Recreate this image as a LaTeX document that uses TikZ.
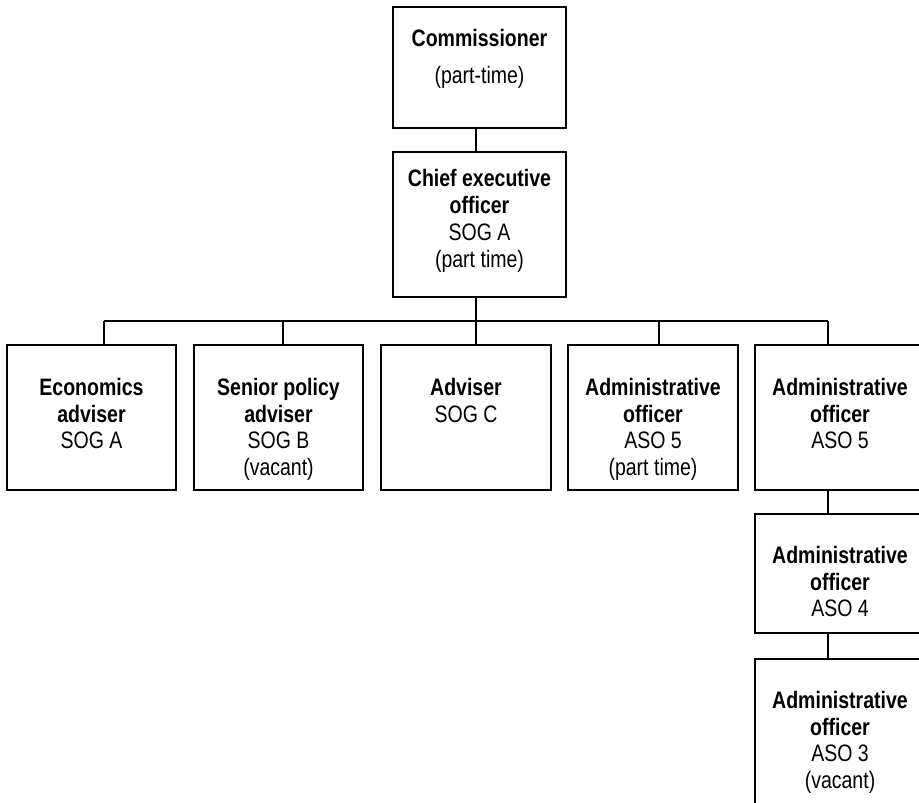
\documentclass[tikz,border=0pt]{standalone}
\usepackage{fontspec}
\setmainfont{Liberation Sans}[FakeStretch=0.82]
\begin{document}
\begin{tikzpicture}[x=1pt,y=-1pt,
  box/.style={draw, line width=1.3pt, inner sep=0pt, rectangle},
  conn/.style={line width=1.3pt},
  txt/.style={align=center, anchor=north, inner sep=0pt, font=\fontsize{23.8}{26.7}\selectfont}]
\clip (0,0) rectangle (919,803);
\fill[white] (0,0) rectangle (919,803);
% boxes
\node[box, minimum width=173pt, minimum height=121pt] (comm) at (479.5,67.5) {};
\node[box, minimum width=173pt, minimum height=145pt] (ceo) at (479.5,224.5) {};
\node[box, minimum width=169pt, minimum height=145pt] (b1) at (91.5,417.5) {};
\node[box, minimum width=169pt, minimum height=145pt] (b2) at (278.5,417.5) {};
\node[box, minimum width=170pt, minimum height=145pt] (b3) at (466,417.5) {};
\node[box, minimum width=170pt, minimum height=145pt] (b4) at (653,417.5) {};
\node[box, minimum width=170pt, minimum height=145pt] (b5) at (840,417.5) {};
\node[box, minimum width=170pt, minimum height=119pt] (b6) at (840,573.5) {};
\node[box, minimum width=170pt, minimum height=171pt] (b7) at (840,744.5) {};
% texts
\node[txt] (tcomm) at (479.5,29.5) {\textbf{Commissioner}\\[9.7pt](part-time)};
\node[txt] (tceo) at (479.5,169.5) {\textbf{Chief executive}\\\textbf{officer}\\SOG A\\(part time)};
\node[txt] (t1) at (91.5,378) {\textbf{Economics}\\\textbf{adviser}\\SOG A};
\node[txt] (t2) at (278.5,378) {\textbf{Senior policy}\\\textbf{adviser}\\SOG B\\(vacant)};
\node[txt] (t3) at (466,378) {\textbf{Adviser}\\SOG C};
\node[txt] (t4) at (653,378) {\textbf{Administrative}\\\textbf{officer}\\ASO 5\\(part time)};
\node[txt] (t5) at (840,378) {\textbf{Administrative}\\\textbf{officer}\\ASO 5};
\node[txt] (t6) at (840,546) {\textbf{Administrative}\\\textbf{officer}\\ASO 4};
\node[txt] (t7) at (840,691) {\textbf{Administrative}\\\textbf{officer}\\ASO 3\\(vacant)};
% connectors
\coordinate (bus) at (0,321);
\draw[conn] ([xshift=-3.5pt]comm.south) -- ([xshift=-3.5pt]ceo.north);
\draw[conn] ([xshift=-3.5pt]ceo.south) -- ([xshift=-3.5pt]ceo.south |- bus);
\draw[conn] ([xshift=12.5pt]b1.north |- bus) -- ([xshift=-12pt]b5.north |- bus);
\draw[conn] ([xshift=12.5pt]b1.north) -- ([xshift=12.5pt]b1.north |- bus);
\draw[conn] ([xshift=4.5pt]b2.north) -- ([xshift=4.5pt]b2.north |- bus);
\draw[conn] ([xshift=10pt]b3.north) -- ([xshift=10pt]b3.north |- bus);
\draw[conn] ([xshift=6pt]b4.north) -- ([xshift=6pt]b4.north |- bus);
\draw[conn] ([xshift=-12pt]b5.north) -- ([xshift=-12pt]b5.north |- bus);
\draw[conn] ([xshift=-12pt]b5.south) -- ([xshift=-12pt]b6.north);
\draw[conn] ([xshift=-12pt]b6.south) -- ([xshift=-12pt]b7.north);
\end{tikzpicture}
\end{document}
